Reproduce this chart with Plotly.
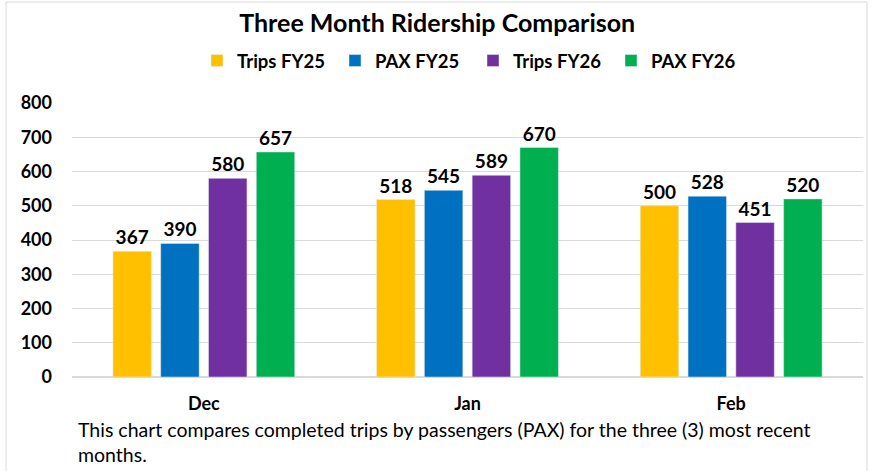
import plotly.graph_objects as go

months = ["Dec", "Jan", "Feb"]
series_names = ["Trips FY25", "PAX FY25", "Trips FY26", "PAX FY26"]
trips_fy25 = [367, 518, 500]
pax_fy25 = [390, 545, 528]
trips_fy26 = [580, 589, 451]
pax_fy26 = [657, 670, 520]
colors = ["#FFC000", "#0070C0", "#7030A0", "#00B050"]
y_ticks = [0, 100, 200, 300, 400, 500, 600, 700, 800]

FONT = "Lato, 'Open Sans', sans-serif"
W, H = 871, 471
L, R, T, B = 72, 8, 103, 94
PW, PH = W - L - R, H - T - B

fig = go.Figure()
for name, vals, col in zip(series_names, [trips_fy25, pax_fy25, trips_fy26, pax_fy26], colors):
    fig.add_trace(go.Bar(
        name=name, x=months, y=vals, marker_color=col,
        text=vals, textposition="outside", cliponaxis=False,
        textfont=dict(family=FONT, size=19, color="#000000", weight="bold"),
    ))


def px_x(p):
    return (p - L) / PW


def px_y(p):
    return (H - B - p) / PH


fig.update_layout(
    width=W, height=H,
    margin=dict(l=L, r=R, t=T, b=B),
    paper_bgcolor="white", plot_bgcolor="white",
    barmode="group", bargap=0.275, bargroupgap=0.195,
    title=dict(text="<b>Three Month Ridership Comparison</b>", x=0.502, xanchor="center",
               y=1 - 23 / H, yanchor="middle", yref="container",
               font=dict(family=FONT, size=25, color="#000000")),
    legend=dict(orientation="h", x=197 / W, xanchor="left", xref="container",
                y=1 - 61 / H, yanchor="middle", yref="container",
                font=dict(family=FONT, size=18.5, color="#000000", weight="bold"),
                itemwidth=30, tracegroupgap=0,
                entrywidth=93, entrywidthmode="pixels"),
    xaxis=dict(showgrid=False, showline=False, ticks="", ticklabelstandoff=14,
               tickfont=dict(family=FONT, size=18, color="#000000", weight="bold")),
    yaxis=dict(range=[0, 800], tickvals=y_ticks, showgrid=True, gridcolor="#d9d9d9",
               gridwidth=1, zeroline=True, zerolinecolor="#d9d9d9", showline=False,
               ticks="", ticklabelstandoff=19,
               tickfont=dict(family=FONT, size=18, color="#000000", weight="bold")),
    shapes=[dict(type="rect", xref="paper", yref="paper",
                 x0=px_x(6), x1=px_x(867), y0=px_y(478), y1=px_y(2),
                 line=dict(color="#d9d9d9", width=1), layer="below")],
    annotations=[dict(
        text="This chart compares completed trips by passengers (PAX) for the three (3) most recent<br>months.",
        xref="paper", yref="paper", x=px_x(76), y=px_y(416), xanchor="left", yanchor="top",
        align="left", showarrow=False,
        font=dict(family=FONT, size=19.5, color="#000000"))],
)

fig.write_html("out.html")
